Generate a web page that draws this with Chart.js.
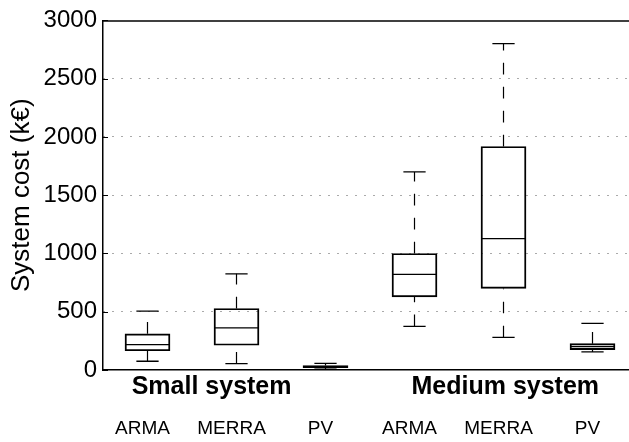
<!DOCTYPE html>
<html>
<head>
<meta charset="utf-8">
<script src="https://cdn.jsdelivr.net/npm/chart.js@4.4.1/dist/chart.umd.min.js"></script>
<style>
  html, body { margin: 0; padding: 0; background: #fff; overflow: hidden; }
  canvas { display: block; }
</style>
</head>
<body>
<canvas id="c" width="629" height="442"></canvas>
<script>
// Box plot of system cost per data source, for two system sizes
const METHODS = ['ARMA', 'MERRA', 'PV', 'ARMA', 'MERRA', 'PV'];
const GROUPS = ['Small system', 'Medium system'];

const WHISKER_LOW  = [75, 55, 8, 375, 280, 155];
const Q1           = [165, 212, 21, 627, 700, 175];
const MEDIAN       = [218, 362, 29, 820, 1128, 200];
const Q3           = [311, 528, 38, 1000, 1918, 226];
const WHISKER_HIGH = [505, 825, 57, 1700, 2800, 400];

const Y_TICKS = [0, 500, 1000, 1500, 2000, 2500, 3000];

const FONT = '"Liberation Sans", Arial, Helvetica, sans-serif';
const positions = METHODS.map((_, i) => i + 1);
// where the two group captions sit along the x axis
const GROUP_CAPTION_X = [1.72, 5.02];

// boxes: floating bars from Q1 to Q3
const boxData = positions.map((x, i) => ({ x, y: [Q1[i], Q3[i]] }));

// whiskers: one dashed line each, drawn upward (min -> Q1, Q3 -> max)
const whiskerSets = [];
positions.forEach((x, i) => {
  whiskerSets.push([{ x, y: WHISKER_LOW[i] }, { x, y: Q1[i] }]);
  whiskerSets.push([{ x, y: Q3[i] }, { x, y: WHISKER_HIGH[i] }]);
});

// end caps and medians as short horizontal segments separated by gaps
const CAP_HALF = 0.125, BOX_HALF = 0.25;
const capData = [], medianData = [];
positions.forEach((x, i) => {
  [WHISKER_LOW[i], WHISKER_HIGH[i]].forEach(v => {
    capData.push({ x: x - CAP_HALF, y: v }, { x: x + CAP_HALF, y: v }, { x: x, y: null });
  });
  medianData.push({ x: x - BOX_HALF, y: MEDIAN[i] }, { x: x + BOX_HALF, y: MEDIAN[i] }, { x: x, y: null });
});

const datasets = [
  {
    type: 'bar',
    data: boxData,
    backgroundColor: 'rgba(0,0,0,0)',
    borderColor: '#000',
    borderWidth: 1.3,
    borderSkipped: false,
    barThickness: 45,
    order: 1
  },
  ...whiskerSets.map(pts => ({
    type: 'line',
    data: pts,
    borderColor: '#000',
    borderWidth: 1.2,
    borderDash: [11.7, 12.3],
    pointRadius: 0,
    fill: false,
    order: 2
  })),
  {
    type: 'line', data: capData, borderColor: '#000', borderWidth: 1.3,
    pointRadius: 0, spanGaps: false, fill: false, order: 0
  },
  {
    type: 'line', data: medianData, borderColor: '#000', borderWidth: 1.3,
    pointRadius: 0, spanGaps: false, fill: false, order: 0
  }
];

// frame top edge, inward y ticks and the group captions
const decorations = {
  id: 'decorations',
  afterDraw(chart) {
    const { ctx, chartArea: a, scales: { x, y } } = chart;
    ctx.save();
    ctx.strokeStyle = '#000';
    ctx.lineWidth = 1.5;
    ctx.beginPath();
    ctx.moveTo(a.left, a.top + 0.5);
    ctx.lineTo(a.right, a.top + 0.5);
    ctx.stroke();

    ctx.lineWidth = 1;
    Y_TICKS.forEach(v => {
      const py = Math.round(y.getPixelForValue(v)) + 0.5;
      ctx.beginPath();
      ctx.moveTo(a.left, py);
      ctx.lineTo(a.left + 5, py);
      ctx.stroke();
    });

    ctx.fillStyle = '#000';
    ctx.font = 'bold 25px ' + FONT;
    ctx.textAlign = 'center';
    ctx.textBaseline = 'middle';
    GROUPS.forEach((g, k) => {
      ctx.fillText(g, x.getPixelForValue(GROUP_CAPTION_X[k]), a.bottom + 17);
    });
    ctx.restore();
  }
};

new Chart(document.getElementById('c'), {
  data: { datasets },
  options: {
    responsive: false,
    devicePixelRatio: 1,
    animation: false,
    events: [],
    layout: { padding: { top: 16, right: 0, bottom: 0, left: 0 } },
    plugins: { legend: { display: false }, tooltip: { enabled: false } },
    scales: {
      x: {
        type: 'linear',
        offset: false,
        min: 0.5,
        max: 6.41,
        afterBuildTicks: s => { s.ticks = positions.map(v => ({ value: v })); },
        afterFit: s => { s.height = 72; s.paddingLeft = 0; s.paddingRight = 0; },
        grid: { display: false, drawTicks: false, offset: false },
        border: { display: true, color: '#000', width: 1.5 },
        ticks: {
          autoSkip: false,
          maxRotation: 0,
          padding: 47,
          labelOffset: -5,
          color: '#000',
          font: { family: FONT, size: 19 },
          callback: v => METHODS[v - 1] || ''
        }
      },
      y: {
        min: 0,
        max: 3000,
        afterBuildTicks: s => { s.ticks = Y_TICKS.map(v => ({ value: v })); },
        afterFit: s => { s.width = 103; },
        grid: {
          drawTicks: false,
          lineWidth: 1,
          color: c => (c.tick && (c.tick.value === 0 || c.tick.value === 3000)) ? 'rgba(0,0,0,0)' : '#555'
        },
        border: { display: true, color: '#000', width: 1.5, dash: [1, 8] },
        ticks: {
          padding: 6,
          color: '#000',
          font: { family: FONT, size: 24 },
          callback: v => String(v)
        },
        title: {
          display: true,
          text: 'System cost (k€)',
          color: '#000',
          font: { family: FONT, size: 26 },
          padding: { top: 6, bottom: 0 }
        }
      }
    }
  },
  plugins: [decorations]
});
</script>
</body>
</html>
